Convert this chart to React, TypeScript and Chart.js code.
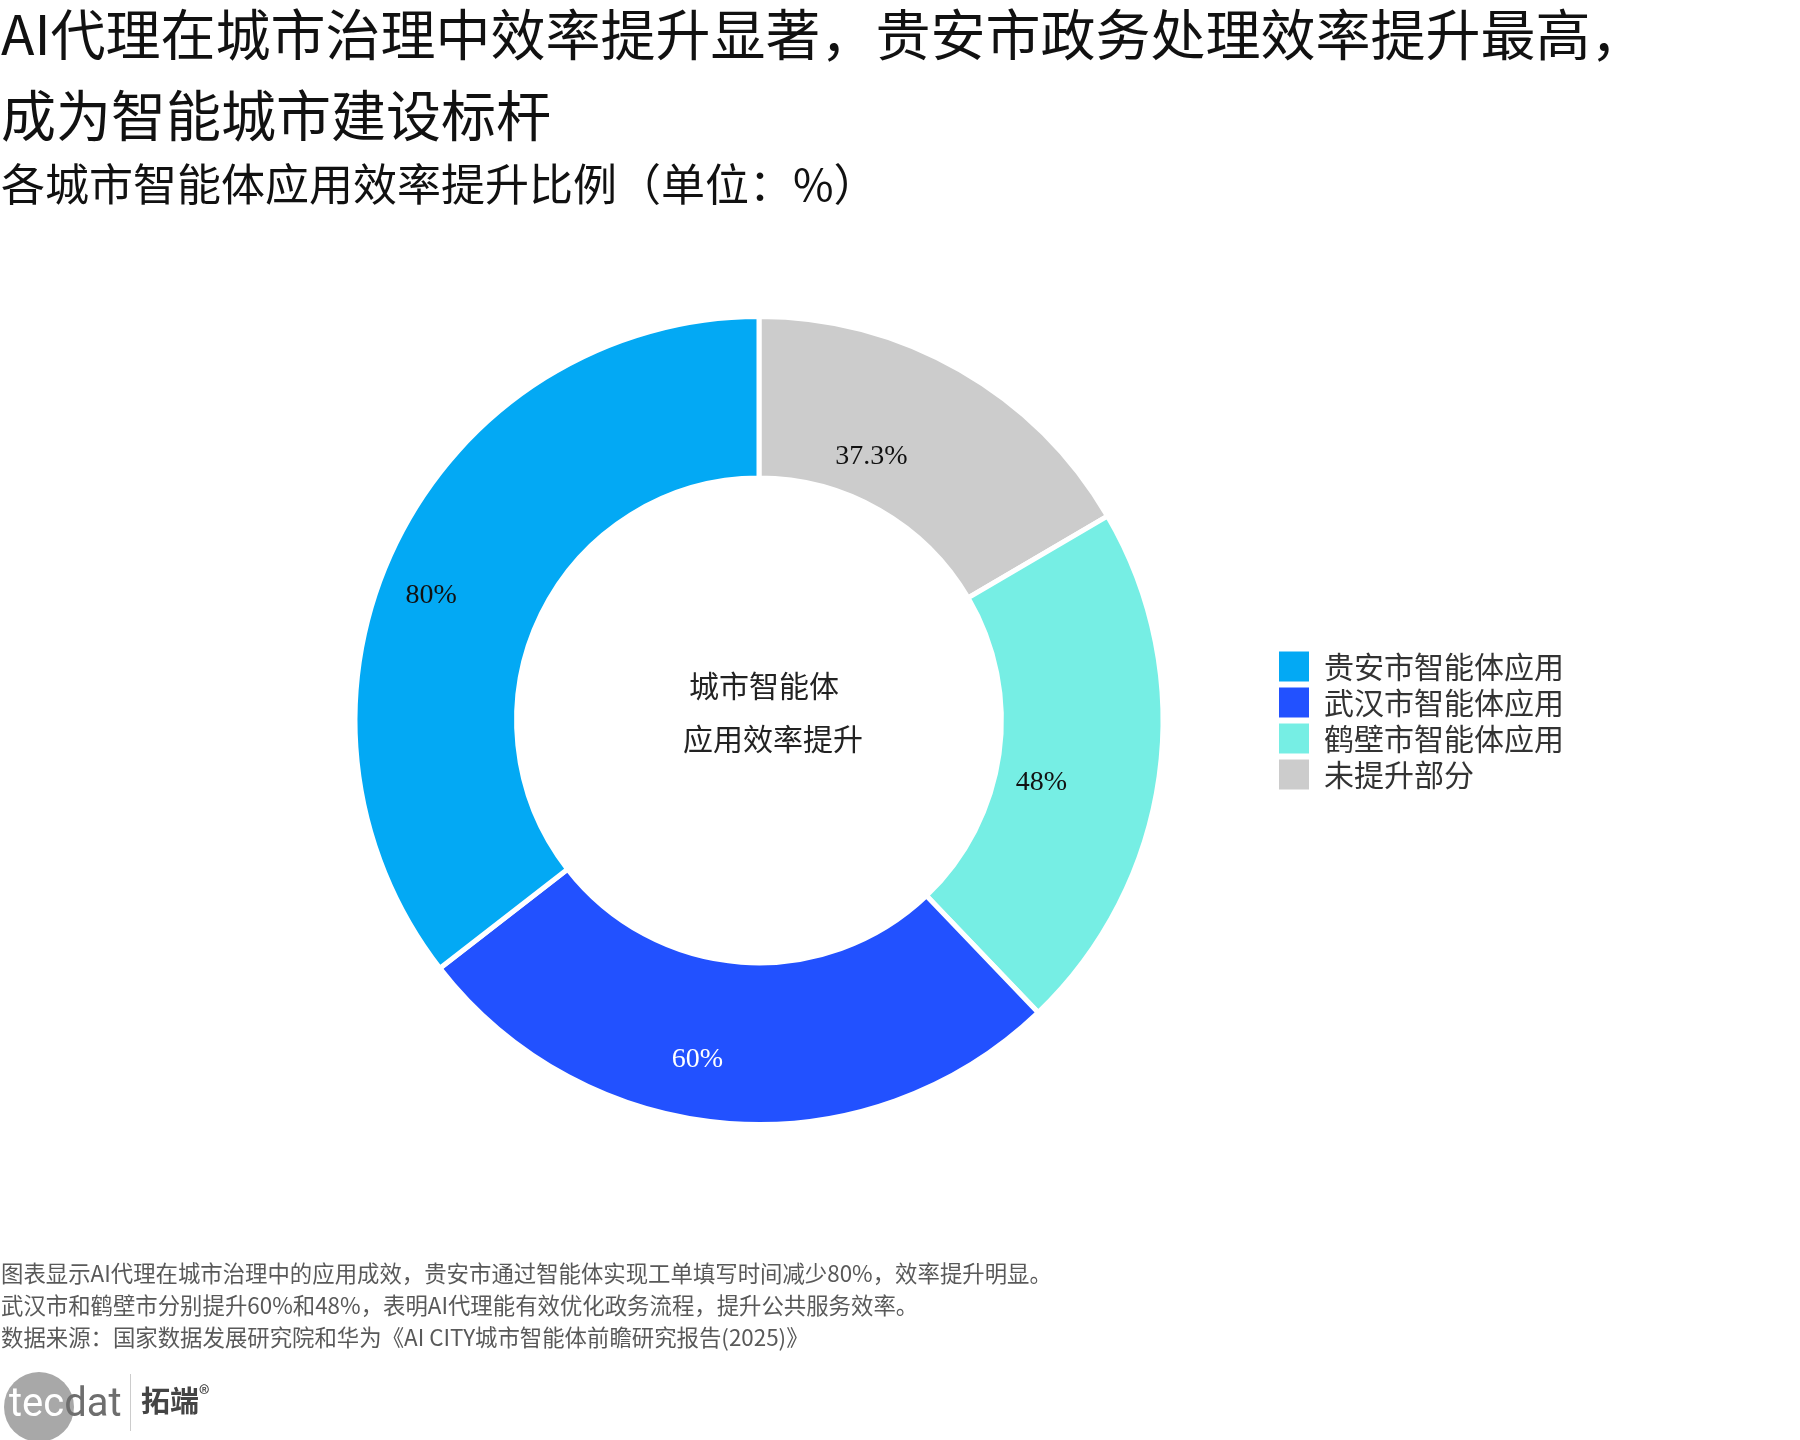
import React, { useEffect, useRef } from "react";
import { Chart, registerables } from "chart.js";

Chart.register(...registerables);

// ---- data (legend order) ----
const categories = ["贵安市智能体应用", "武汉市智能体应用", "鹤壁市智能体应用", "未提升部分"];
const values = [80, 60, 48, 37.3];
const valueLabels = ["80%", "60%", "48%", "37.3%"];
const sliceColors = ["#03A9F4", "#2251FF", "#76EEE4", "#CCCCCC"];
const labelColors = ["#111111", "#FFFFFF", "#111111", "#111111"];
const centerLines = ["城市智能体", "应用效率提升"];

const titleLines = [
  "AI代理在城市治理中效率提升显著，贵安市政务处理效率提升最高，",
  "成为智能城市建设标杆",
];
const subtitle = "各城市智能体应用效率提升比例（单位：%）";
const notes = [
  "图表显示AI代理在城市治理中的应用成效，贵安市通过智能体实现工单填写时间减少80%，效率提升明显。",
  "武汉市和鹤壁市分别提升60%和48%，表明AI代理能有效优化政务流程，提升公共服务效率。",
  "数据来源：国家数据发展研究院和华为《AI CITY城市智能体前瞻研究报告(2025)》",
];

const CJK = '"Noto Sans CJK SC", "Noto Sans", sans-serif';

// drawing order (clockwise from top) is the reverse of the legend order
const drawLabels = [...categories].reverse();
const drawValues = [...values].reverse();
const drawColors = [...sliceColors].reverse();
const drawValueLabels = [...valueLabels].reverse();
const drawLabelColors = [...labelColors].reverse();

const sliceLabelPlugin = {
  id: "sliceLabels",
  afterDatasetsDraw(chart: any) {
    const meta = chart.getDatasetMeta(0);
    const ctx = chart.ctx;
    ctx.save();
    ctx.font = '28px "Liberation Serif", "DejaVu Serif", serif';
    ctx.textAlign = "right";
    ctx.textBaseline = "middle";
    meta.data.forEach((arc: any, i: number) => {
      const p = arc.getProps(["x", "y", "startAngle", "endAngle", "innerRadius", "outerRadius"], true);
      const mid = (p.startAngle + p.endAngle) / 2;
      const r = (p.innerRadius + p.outerRadius) / 2;
      const px = p.x + Math.cos(mid) * r;
      const py = p.y + Math.sin(mid) * r;
      ctx.fillStyle = drawLabelColors[i];
      ctx.fillText(drawValueLabels[i], px - 12, py + 17);
    });
    ctx.restore();
  },
};

const centerTextPlugin = {
  id: "centerText",
  afterDatasetsDraw(chart: any) {
    const meta = chart.getDatasetMeta(0);
    const arc = meta.data[0];
    if (!arc) return;
    const { x, y } = arc.getProps(["x", "y"], true);
    const ctx = chart.ctx;
    ctx.save();
    ctx.font = `30px ${CJK}`;
    ctx.fillStyle = "#222222";
    ctx.textAlign = "center";
    ctx.textBaseline = "middle";
    ctx.fillText(centerLines[0], x + 5, y - 35);
    ctx.fillText(centerLines[1], x + 14, y + 18);
    ctx.restore();
  },
};

function DonutChart() {
  const ref = useRef<HTMLCanvasElement | null>(null);
  useEffect(() => {
    if (!ref.current) return;
    const chart = new Chart(ref.current, {
      type: "doughnut",
      data: {
        labels: drawLabels,
        datasets: [
          {
            data: drawValues,
            backgroundColor: drawColors,
            borderColor: "#ffffff",
            borderWidth: 5,
            hoverOffset: 0,
          },
        ],
      },
      options: {
        responsive: false,
        animation: false,
        cutout: "60%",
        layout: { padding: { top: 314, bottom: 313, left: 245, right: 226 } },
        plugins: {
          legend: {
            position: "right",
            align: "center",
            labels: {
              boxWidth: 30,
              boxHeight: 30,
              padding: 6,
              color: "#333333",
              font: { size: 30, family: CJK },
              sort: (a: any, b: any) => b.index - a.index,
              generateLabels: (c: any) => {
                const base = (Chart as any).overrides.doughnut.plugins.legend.labels.generateLabels(c);
                return base.map((it: any) => ({ ...it, lineWidth: 0, strokeStyle: "rgba(0,0,0,0)" }));
              },
            },
          },
          tooltip: { enabled: false },
        },
      } as any,
      plugins: [sliceLabelPlugin, centerTextPlugin],
    });
    return () => chart.destroy();
  }, []);
  return (
    <canvas
      ref={ref}
      width={1800}
      height={1440}
      style={{ position: "absolute", left: 0, top: 0, width: 1800, height: 1440 }}
    />
  );
}

export default function App() {
  return (
    <div
      style={{
        position: "absolute",
        left: 0,
        top: 0,
        width: 1800,
        height: 1440,
        background: "#ffffff",
        overflow: "hidden",
        fontFamily: CJK,
      }}
    >
      <DonutChart />
      <div style={{ position: "absolute", left: 1, top: 4, fontSize: 55, lineHeight: "55px", color: "#111", whiteSpace: "nowrap" }}>
        {titleLines[0]}
      </div>
      <div style={{ position: "absolute", left: 1, top: 85, fontSize: 55, lineHeight: "55px", color: "#111", whiteSpace: "nowrap" }}>
        {titleLines[1]}
      </div>
      <div style={{ position: "absolute", left: 1, top: 160, fontSize: 44, lineHeight: "45px", color: "#111", whiteSpace: "nowrap" }}>
        {subtitle}
      </div>
      {notes.map((t, i) => (
        <div
          key={i}
          style={{
            position: "absolute",
            left: 1,
            top: 1256 + i * 32,
            fontSize: 22.4,
            lineHeight: "32px",
            color: "#595959",
            whiteSpace: "nowrap",
          }}
        >
          {t}
        </div>
      ))}
      {/* logo */}
      <div style={{ position: "absolute", left: 4, top: 1372, width: 70, height: 70, borderRadius: "50%", background: "#a8a8a8" }} />
      <div
        style={{
          position: "absolute",
          left: 9,
          top: 1379,
          fontFamily: "Roboto, sans-serif",
          fontSize: 40,
          lineHeight: "48px",
          whiteSpace: "nowrap",
        }}
      >
        <span style={{ color: "#ffffff" }}>tec</span>
        <span style={{ color: "#6e6e6e" }}>dat</span>
      </div>
      <div style={{ position: "absolute", left: 130, top: 1374, width: 1, height: 57, background: "#cccccc" }} />
      <div
        style={{
          position: "absolute",
          left: 141,
          top: 1381,
          fontSize: 29,
          lineHeight: "36px",
          fontWeight: 700,
          color: "#444444",
          whiteSpace: "nowrap",
        }}
      >
        拓端<span style={{ fontSize: 22, verticalAlign: "top", fontWeight: 400, lineHeight: "22px" }}>®</span>
      </div>
    </div>
  );
}
